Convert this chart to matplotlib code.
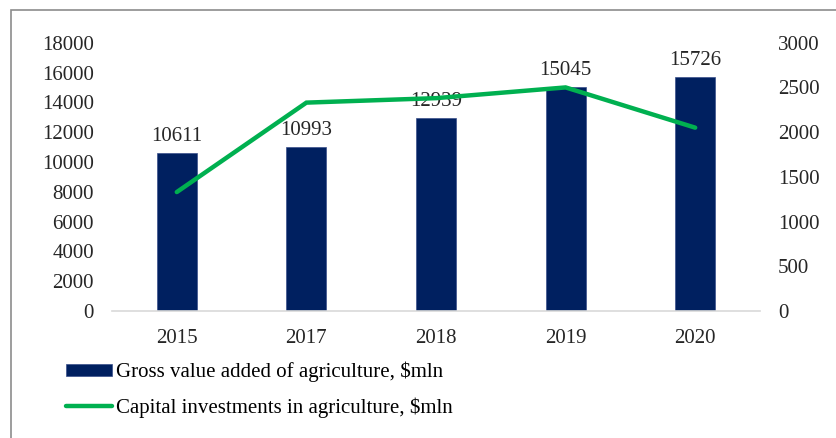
import matplotlib
matplotlib.use('Agg')
import matplotlib.pyplot as plt
from matplotlib.patches import Rectangle

years = ['2015', '2017', '2018', '2019', '2020']
gva = [10611, 10993, 12939, 15045, 15726]
invest = [1330, 2330, 2380, 2500, 2050]

navy = '#002060'
green = '#00B050'

plt.rcParams['font.family'] = ['Liberation Serif', 'DejaVu Serif']
fs = 15

W, H = 837, 438
fig = plt.figure(figsize=(W / 100, H / 100), dpi=100)
# рамка (видны только левый и верхний края)
fig.patches.append(Rectangle((11 / W, -0.1), 1.2, 1 - 10 / H + 0.1, transform=fig.transFigure,
                             fill=False, edgecolor='#8c8c8c', lw=1.2))

ax = fig.add_axes([112 / W, 1 - 311 / H, (760 - 112) / W, (311 - 42.7) / H])
x = range(len(years))
bars = ax.bar(x, gva, width=0.31, color=navy, edgecolor='#3a4f8a', lw=0.5,
              label='Gross value added of agriculture, $mln', zorder=2)
for xi, v in zip(x, gva):
    ax.annotate(str(v), (xi, v), xytext=(0, 5), textcoords='offset points',
                ha='center', va='bottom', fontsize=fs, color='#262626')
ax.set_xlim(-0.5, len(years) - 0.5)
ax.set_ylim(0, 18000)
ax.set_yticks(range(0, 18001, 2000))
ax.set_xticks(list(x))
ax.set_xticklabels(years)

ax2 = ax.twinx()
ln, = ax2.plot(x, invest, color=green, lw=3.2, solid_capstyle='round',
               solid_joinstyle='miter', label='Capital investments in agriculture, $mln', zorder=3)
ax2.set_ylim(0, 3000)
ax2.set_yticks(range(0, 3001, 500))

for a in (ax, ax2):
    for s in a.spines.values():
        s.set_visible(False)
    a.tick_params(length=0, labelsize=fs, colors='#262626')
ax.spines['bottom'].set_visible(True)
ax.spines['bottom'].set_color('#d9d9d9')
ax.spines['bottom'].set_linewidth(1.2)
ax.tick_params(axis='y', pad=13)
ax.tick_params(axis='x', pad=13)
ax2.tick_params(axis='y', pad=13)

fig.legend([bars, ln], [bars.get_label(), ln.get_label()],
           loc='upper left', bbox_to_anchor=(66 / W, 1 - 362 / H),
           frameon=False, fontsize=fs, handlelength=2.2, handleheight=0.55,
           handletextpad=0.2, labelspacing=0.73, borderaxespad=0, borderpad=0)

fig.savefig('out.png', dpi=100)
